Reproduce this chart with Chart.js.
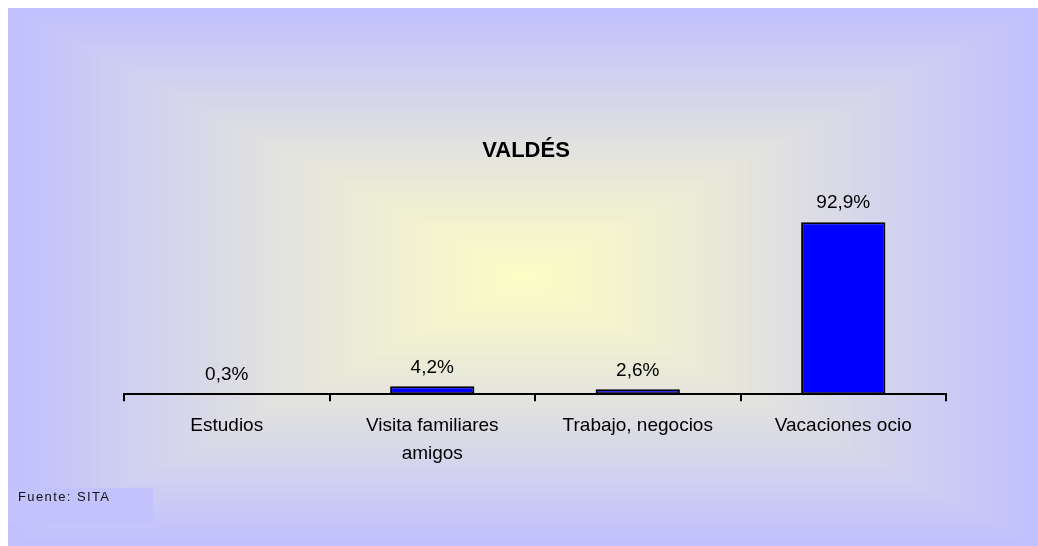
<!DOCTYPE html>
<html>
<head>
<meta charset="utf-8">
<script src="https://cdn.jsdelivr.net/npm/chart.js@4/dist/chart.umd.min.js"></script>
<style>
  html, body { margin: 0; padding: 0; background: #ffffff; }
  #wrap { width: 1038px; height: 546px; position: relative; }
</style>
</head>
<body>
<div id="wrap"><canvas id="c" width="1038" height="546"></canvas></div>
<script>
const chartTitle = 'VALDÉS';
const categories = ['Estudios', ['Visita familiares', 'amigos'], 'Trabajo, negocios', 'Vacaciones ocio'];
const values = [0.3, 4.2, 2.6, 92.9];
const sourceNote = 'Fuente: SITA';

const FONT = '"Liberation Sans", Arial, sans-serif';

const bgPlugin = {
  id: 'bgPanel',
  beforeDraw(chart) {
    const ctx = chart.ctx;
    const W = chart.width, H = chart.height;
    ctx.save();
    ctx.fillStyle = '#ffffff';
    ctx.fillRect(0, 0, W, H);
    const x0 = 8, y0 = 8, x1 = W, y1 = H;
    const cx = (x0 + x1) / 2, cy = (y0 + y1) / 2;
    const hw = (x1 - x0) / 2, hh = (y1 - y0) / 2;
    const c0 = [253, 253, 198], c1 = [192, 192, 255];
    const N = 140;
    for (let i = N; i >= 1; i--) {
      const t = Math.pow(i / N, 1.1);
      const s = i / N;
      const r = Math.round(c0[0] + (c1[0] - c0[0]) * t);
      const g = Math.round(c0[1] + (c1[1] - c0[1]) * t);
      const b = Math.round(c0[2] + (c1[2] - c0[2]) * t);
      ctx.fillStyle = `rgb(${r},${g},${b})`;
      ctx.fillRect(cx - hw * s, cy - hh * s, 2 * hw * s, 2 * hh * s);
    }
    // source note box
    ctx.fillStyle = 'rgb(194,194,252)';
    ctx.fillRect(8, 488, 145, 35);
    ctx.fillStyle = '#111111';
    ctx.font = '13px ' + FONT;
    ctx.textBaseline = 'middle';
    ctx.textAlign = 'left';
    try { ctx.letterSpacing = '1.4px'; } catch (e) {}
    ctx.fillText(sourceNote, 18, 497);
    try { ctx.letterSpacing = '0px'; } catch (e) {}
    ctx.restore();
  }
};

const labelPlugin = {
  id: 'valueLabels',
  afterDatasetsDraw(chart) {
    const ctx = chart.ctx;
    const meta = chart.getDatasetMeta(0);
    ctx.save();
    ctx.fillStyle = '#000000';
    ctx.font = '19px ' + FONT;
    ctx.textAlign = 'center';
    ctx.textBaseline = 'middle';
    meta.data.forEach((bar, i) => {
      const txt = values[i].toFixed(1).replace('.', ',') + '%';
      ctx.fillText(txt, bar.x, bar.y - 19);
    });
    // title
    ctx.font = 'bold 22px ' + FONT;
    ctx.fillText(chartTitle, 526, 151);
    ctx.restore();
  }
};

new Chart(document.getElementById('c'), {
  type: 'bar',
  data: {
    labels: categories,
    datasets: [{
      data: values,
      backgroundColor: '#0000ff',
      borderColor: '#000000',
      borderWidth: 2,
      borderSkipped: false,
      barPercentage: 0.41,
      categoryPercentage: 1.0
    }]
  },
  options: {
    responsive: false,
    animation: false,
    devicePixelRatio: 1,
    layout: { padding: { left: 124, right: 92, top: 209, bottom: 67 } },
    plugins: {
      legend: { display: false },
      tooltip: { enabled: false },
      title: { display: false }
    },
    scales: {
      x: {
        offset: true,
        grid: {
          offset: true,
          drawOnChartArea: false,
          drawTicks: true,
          tickLength: 7,
          color: '#000000',
          lineWidth: 2
        },
        border: { display: true, color: '#000000', width: 2 },
        ticks: {
          color: '#000000',
          padding: 11,
          maxRotation: 0,
          autoSkip: false,
          font: { family: FONT, size: 19, lineHeight: 1.47 }
        }
      },
      y: {
        display: false,
        min: 0,
        max: 100
      }
    }
  },
  plugins: [bgPlugin, labelPlugin]
});
</script>
</body>
</html>
